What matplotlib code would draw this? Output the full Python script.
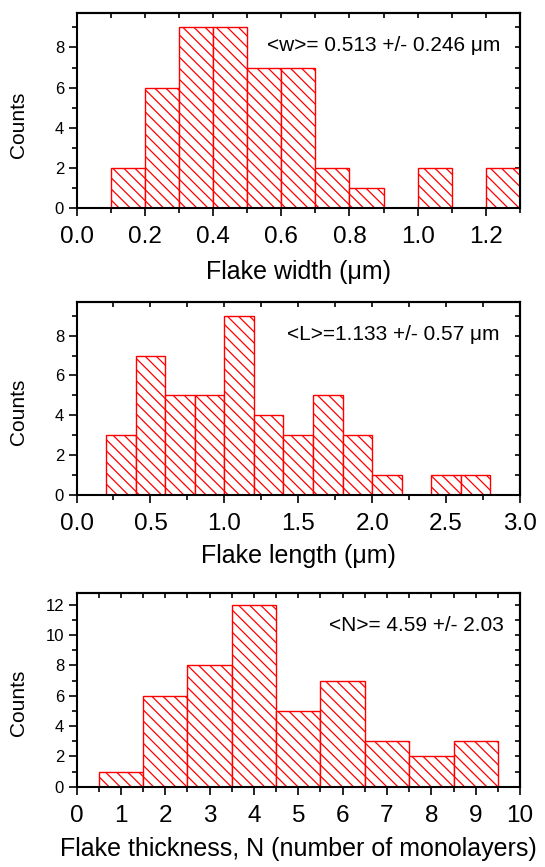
import matplotlib
matplotlib.use("Agg")
import matplotlib.pyplot as plt
from matplotlib.ticker import MultipleLocator

plt.rcParams['font.family'] = ['Liberation Sans', 'DejaVu Sans']
plt.rcParams['hatch.linewidth'] = 0.9
plt.rcParams['hatch.color'] = 'red'

# Flake width histogram (bin width 0.1 um)
width_edges = [0.1, 0.2, 0.3, 0.4, 0.5, 0.6, 0.7, 0.8, 0.9, 1.0, 1.1, 1.2]
width_counts = [2, 6, 9, 9, 7, 7, 2, 1, 0, 2, 0, 2]

# Flake length histogram (bin width 0.2 um)
length_edges = [0.2, 0.4, 0.6, 0.8, 1.0, 1.2, 1.4, 1.6, 1.8, 2.0, 2.2, 2.4, 2.6]
length_counts = [3, 7, 5, 5, 9, 4, 3, 5, 3, 1, 0, 1, 1]

# Flake thickness histogram (bin width 1 monolayer)
thick_edges = [0.5, 1.5, 2.5, 3.5, 4.5, 5.5, 6.5, 7.5, 8.5]
thick_counts = [1, 6, 8, 12, 5, 7, 3, 2, 3]

panels = [
    dict(edges=width_edges, counts=width_counts, bw=0.1, xlim=(0, 1.3), ylim=(0, 9.7),
         xmaj=0.2, xmin=0.1, ymaj=2, ymin=1, fmt="{:.1f}",
         xlabel="Flake width (\u03bcm)", note="<w>= 0.513 +/- 0.246 \u03bcm",
         note_xy=(0.955, 0.835), rect=[0.1404, 0.7597, 0.8138, 0.2250], xl_off=64),
    dict(edges=length_edges, counts=length_counts, bw=0.2, xlim=(0, 3.0), ylim=(0, 9.7),
         xmaj=0.5, xmin=0.25, ymaj=2, ymin=1, fmt="{:.1f}",
         xlabel="Flake length (\u03bcm)", note="<L>=1.133 +/- 0.57 \u03bcm",
         note_xy=(0.953, 0.828), rect=[0.1404, 0.4291, 0.8138, 0.2229], xl_off=61),
    dict(edges=thick_edges, counts=thick_counts, bw=1.0, xlim=(0, 10), ylim=(0, 12.8),
         xmaj=1, xmin=0.5, ymaj=2, ymin=1, fmt="{:.0f}",
         xlabel="Flake thickness, N (number of monolayers)", note="<N>= 4.59 +/- 2.03",
         note_xy=(0.964, 0.833), rect=[0.1404, 0.0926, 0.8138, 0.2238], xl_off=62),
]

fig = plt.figure(figsize=(5.45, 8.67), dpi=100)

for p in panels:
    ax = fig.add_axes(p['rect'])
    ax.bar(p['edges'], p['counts'], width=p['bw'], align='edge',
           facecolor='white', edgecolor='red', linewidth=1.0, hatch='\\\\\\')
    ax.set_xlim(*p['xlim'])
    ax.set_ylim(*p['ylim'])

    ax.xaxis.set_major_locator(MultipleLocator(p['xmaj']))
    ax.xaxis.set_minor_locator(MultipleLocator(p['xmin']))
    ax.yaxis.set_major_locator(MultipleLocator(p['ymaj']))
    ax.yaxis.set_minor_locator(MultipleLocator(p['ymin']))
    ax.xaxis.set_major_formatter(lambda v, pos, f=p['fmt']: f.format(v))

    for s in ax.spines.values():
        s.set_linewidth(1.5)
    ax.tick_params(which='both', direction='out', width=1.2, top=False, right=False)
    ax.tick_params(which='major', length=6)
    ax.tick_params(which='minor', length=3.5)
    ax.tick_params(axis='x', labelsize=17.5, pad=7)
    ax.tick_params(axis='y', labelsize=12, pad=3)

    # inward ticks on top and right
    top = ax.secondary_xaxis('top')
    top.xaxis.set_major_locator(MultipleLocator(p['xmaj']))
    top.xaxis.set_minor_locator(MultipleLocator(p['xmin']))
    top.tick_params(which='both', direction='in', length=3.5, width=1.2, labeltop=False)
    right = ax.secondary_yaxis('right')
    right.yaxis.set_major_locator(MultipleLocator(p['ymaj']))
    right.yaxis.set_minor_locator(MultipleLocator(p['ymin']))
    right.tick_params(which='both', direction='in', length=3.5, width=1.2, labelright=False)
    for sa in (top, right):
        for s in sa.spines.values():
            s.set_linewidth(1.5)

    h = p['rect'][3] * 867
    ax.set_xlabel(p['xlabel'], fontsize=18, va='center')
    ax.xaxis.set_label_coords(0.5, -p['xl_off'] / h)
    ax.set_ylabel("Counts", fontsize=15, va='center')
    ax.yaxis.set_label_coords(-0.130, 0.43)

    ax.text(p['note_xy'][0], p['note_xy'][1], p['note'], transform=ax.transAxes,
            ha='right', va='center', fontsize=15)

plt.savefig("out.png", dpi=100)
